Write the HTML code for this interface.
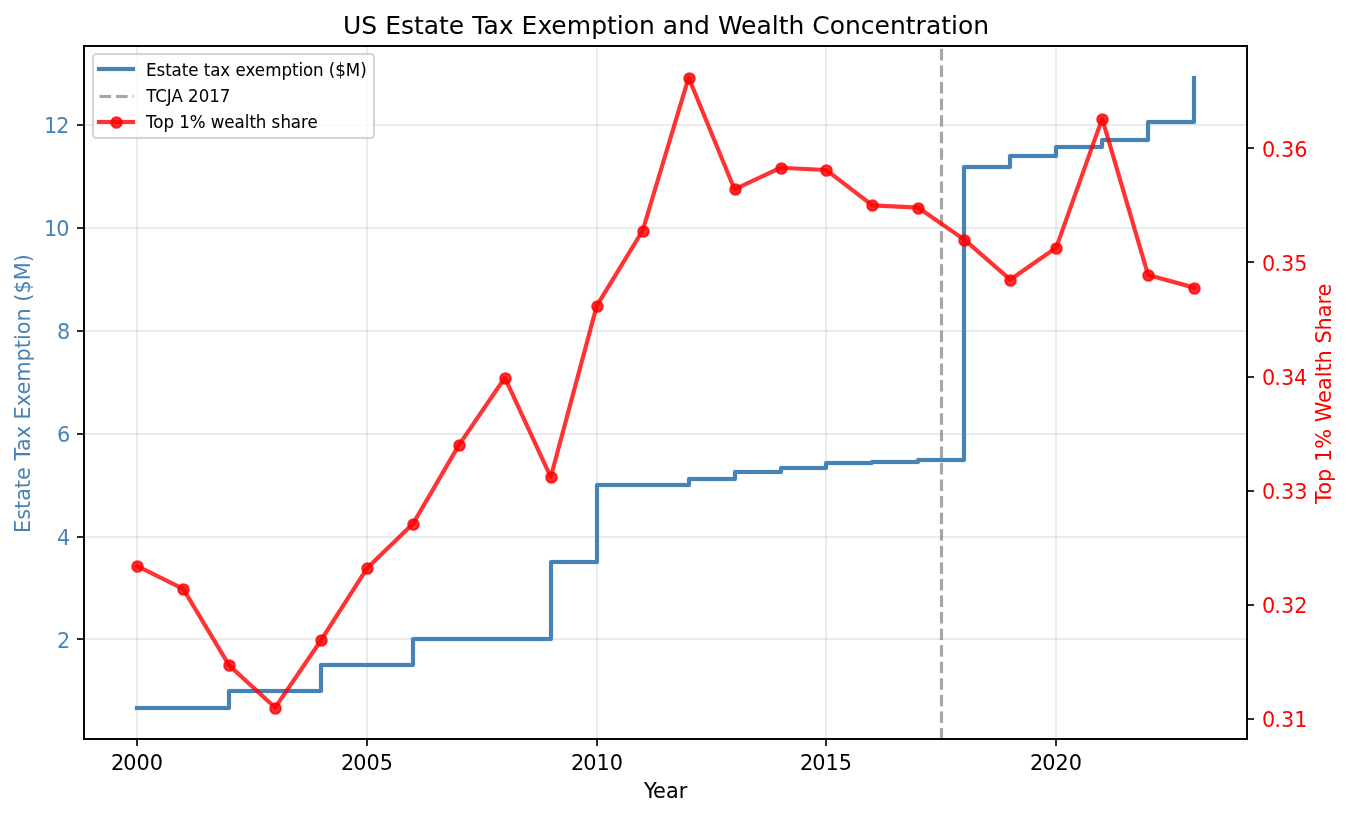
<!DOCTYPE html>
<html lang="en">
<head>
<meta charset="utf-8">
<title>US Estate Tax Exemption and Wealth Concentration</title>
<style>
html,body{margin:0;padding:0;background:#fff}
#chart{display:block;width:1351px;height:817px}
#chart text{font-family:'DejaVu Sans','Liberation Sans',sans-serif;font-weight:400;font-style:normal}
</style>
</head>
<body>
<svg id="chart" width="1351" height="817" viewBox="0 0 1351 817" role="img" aria-label="US Estate Tax Exemption and Wealth Concentration">
<rect x="0" y="0" width="1351" height="817" fill="#fff"/>
<defs><clipPath id="c"><rect x="84.417" y="46.083" width="1162.5" height="693"/></clipPath></defs>
<!-- grid -->
<path d="M137 739V46M367 739V46M597 739V46M826 739V46M1056 739V46" fill="none" stroke="#b0b0b0" stroke-opacity="0.25" stroke-width="2"/>
<path d="M84 639H1247M84 537H1247M84 434H1247M84 331H1247M84 228H1247M84 125H1247" fill="none" stroke="#b0b0b0" stroke-opacity="0.25" stroke-width="2"/>
<!-- left and bottom ticks -->
<path d="M137 739V746M367 739V746M597 739V746M826 739V746M1056 739V746M84 639H77M84 537H77M84 434H77M84 331H77M84 228H77M84 125H77" fill="none" stroke="#000" stroke-opacity="0.8333" stroke-width="2"/>
<!-- estate tax exemption (step) -->
<g fill="none" stroke="#4682b4" stroke-linecap="square" stroke-linejoin="round" clip-path="url(#c)">
<path d="M137 708H183H229V691H275H321V665H367H413V639H459H505H551V562H597V485H643H689V479H735V472H781V468H826V463H872V462H918V460H964V167H1010V156H1056V147H1102V140H1148V122H1194V78" stroke-width="6" stroke-opacity="0.0833"/>
<path d="M137 708H183H229V691H275H321V665H367H413V639H459H505H551V562H597V485H643H689V479H735V472H781V468H826V463H872V462H918V460H964V167H1010V156H1056V147H1102V140H1148V122H1194V78" stroke-width="4"/>
</g>
<!-- TCJA 2017 dashed line -->
<g fill="none" stroke="#808080" stroke-width="3.125">
<path d="M941.5 49V60M941.5 66V77M941.5 82V93M941.5 99V110M941.5 116V126M941.5 132V143M941.5 149V159M941.5 165V176M941.5 182V192M941.5 198V209M941.5 215V226M941.5 232V242M941.5 248V259M941.5 265V275M941.5 281V292M941.5 298V308M941.5 314V325M941.5 331V342M941.5 347V358M941.5 364V375M941.5 381V391M941.5 397V408M941.5 414V424M941.5 430V441M941.5 447V457M941.5 463V474M941.5 480V491M941.5 497V507M941.5 513V524M941.5 530V540M941.5 546V557M941.5 563V573M941.5 579V590M941.5 596V607M941.5 612V623M941.5 629V640M941.5 646V656M941.5 662V673M941.5 679V689M941.5 695V706M941.5 712V722M941.5 728V739" stroke-opacity="0.7"/>
<path d="M941.5 192V193M941.5 231V232M941.5 457V458M941.5 496V497M941.5 722V723" stroke-opacity="0.656"/>
<path d="M941.5 115V116M941.5 308V309M941.5 380V381M941.5 573V574M941.5 645V646" stroke-opacity="0.612"/>
<path d="M941.5 159V160M941.5 264V265M941.5 424V425M941.5 529V530M941.5 689V690" stroke-opacity="0.569"/>
<path d="M941.5 148V149M941.5 275V276M941.5 413V414M941.5 540V541M941.5 678V679" stroke-opacity="0.525"/>
<path d="M941.5 126V127M941.5 297V298M941.5 391V392M941.5 562V563M941.5 656V657" stroke-opacity="0.481"/>
<path d="M941.5 181V182M941.5 242V243M941.5 446V447M941.5 507V508M941.5 711V712" stroke-opacity="0.438"/>
<path d="M941.5 65V66M941.5 93V94M941.5 330V331M941.5 358V359M941.5 595V596M941.5 623V624" stroke-opacity="0.394"/>
<path d="M941.5 209V210M941.5 214V215M941.5 474V475M941.5 479V480" stroke-opacity="0.35"/>
<path d="M941.5 60V61M941.5 98V99M941.5 325V326M941.5 363V364M941.5 590V591M941.5 628V629" stroke-opacity="0.306"/>
<path d="M941.5 176V177M941.5 247V248M941.5 441V442M941.5 512V513M941.5 706V707" stroke-opacity="0.262"/>
<path d="M941.5 131V132M941.5 292V293M941.5 396V397M941.5 557V558M941.5 661V662" stroke-opacity="0.219"/>
<path d="M941.5 143V144M941.5 280V281M941.5 408V409M941.5 545V546M941.5 673V674" stroke-opacity="0.175"/>
<path d="M941.5 164V165M941.5 259V260M941.5 429V430M941.5 524V525M941.5 694V695" stroke-opacity="0.131"/>
<path d="M941.5 48V49M941.5 110V111M941.5 313V314M941.5 375V376M941.5 578V579M941.5 640V641" stroke-opacity="0.087"/>
<path d="M941.5 197V198M941.5 226V227M941.5 462V463M941.5 491V492M941.5 727V728M941.5 739V740" stroke-opacity="0.044"/>
</g>
<!-- legend -->
<rect x="93" y="54" width="281" height="84" rx="3.333" ry="3.333" fill="#fff" fill-opacity="0.8" stroke="#ccc" stroke-opacity="0.8" stroke-width="2"/>
<rect x="93" y="54" width="281" height="84" rx="3.333" ry="3.333" fill="none" stroke="#ccc" stroke-opacity="0.033" stroke-width="4"/>
<g fill="none" stroke="#4682b4" stroke-linecap="square"><path d="M99 69H133" stroke-width="6" stroke-opacity="0.0833"/><path d="M99 69H133" stroke-width="4"/></g>
<g fill="none" stroke="#808080" stroke-dasharray="11.562 5"><path d="M99.5 96.5H133.5" stroke-width="5" stroke-opacity="0.044"/><path d="M99.5 96.5H133.5" stroke-width="3" stroke-opacity="0.69"/></g>
<g fill="none" stroke="#f00"><path d="M96.917 122H135.083" stroke-width="4" stroke-opacity="0.8"/><path d="M96.917 119.5H135.083M96.917 124.5H135.083" stroke-width="1" stroke-opacity="0.0667"/></g>
<circle cx="116.5" cy="122.5" r="5.26" fill="#f00" fill-opacity="0.8" stroke="#f00" stroke-opacity="0.8" stroke-width="2.083"/>
<!-- right ticks -->
<path d="M1247 719H1254M1247 605H1254M1247 491H1254M1247 377H1254M1247 262H1254M1247 148H1254" fill="none" stroke="#000" stroke-opacity="0.8333" stroke-width="2"/>
<!-- top 1% wealth share -->
<path d="M137.258 566.062L183.206 588.888L229.155 665.355L275.103 707.583L321.052 640.246L367.001 568.344L412.949 523.833L458.898 445.083L504.847 377.746L550.795 477.04L596.744 305.844L642.692 230.518L688.641 77.583L734.59 189.431L780.538 167.746L826.487 170.029L872.435 205.409L918.384 207.692L964.333 239.649L1010.281 279.594L1056.23 247.638L1102.179 118.67L1148.127 275.029L1194.076 287.583" fill="none" stroke="#f00" stroke-opacity="0.8" stroke-width="4.167" stroke-linecap="square" stroke-linejoin="round" clip-path="url(#c)"/>
<g fill="#f00" fill-opacity="0.8" stroke="#f00" stroke-opacity="0.8" stroke-width="2.083">
<circle cx="137.5" cy="566.5" r="5.26"/>
<circle cx="183.5" cy="589.5" r="5.26"/>
<circle cx="229.5" cy="665.5" r="5.26"/>
<circle cx="275.5" cy="708.5" r="5.26"/>
<circle cx="321.5" cy="640.5" r="5.26"/>
<circle cx="367.5" cy="568.5" r="5.26"/>
<circle cx="413.5" cy="524.5" r="5.26"/>
<circle cx="459.5" cy="445.5" r="5.26"/>
<circle cx="505.5" cy="378.5" r="5.26"/>
<circle cx="551.5" cy="477.5" r="5.26"/>
<circle cx="597.5" cy="306.5" r="5.26"/>
<circle cx="643.5" cy="231.5" r="5.26"/>
<circle cx="689.5" cy="78.5" r="5.26"/>
<circle cx="735.5" cy="189.5" r="5.26"/>
<circle cx="781.5" cy="168.5" r="5.26"/>
<circle cx="826.5" cy="170.5" r="5.26"/>
<circle cx="872.5" cy="205.5" r="5.26"/>
<circle cx="918.5" cy="208.5" r="5.26"/>
<circle cx="964.5" cy="240.5" r="5.26"/>
<circle cx="1010.5" cy="280.5" r="5.26"/>
<circle cx="1056.5" cy="248.5" r="5.26"/>
<circle cx="1102.5" cy="119.5" r="5.26"/>
<circle cx="1148.5" cy="275.5" r="5.26"/>
<circle cx="1194.5" cy="288.5" r="5.26"/>
</g>
<!-- axes frame -->
<rect x="84" y="46" width="1163" height="693" fill="none" stroke="#000" stroke-opacity="0.9722" stroke-width="2"/>
<!-- labels -->
<text transform="translate(665.75 34)" font-size="25" stroke="#000" stroke-width="0.025" stroke-linejoin="round" x="-322.75 -304.5 -289 -280.5 -264.75 -251.75 -242 -226.75 -217 -201.75 -193.5 -182.25 -167 -152.75 -144.25 -128.25 -114.5 -99 -74.5 -58.75 -49 -42 -26.75 -11.5 -3 12.5 28.25 43.5 52.25 75.25 90.75 106 113 122.75 138 146.5 164 179.25 195 208.75 224.25 240 249.75 260.25 275.5 285.25 292.25 307.5" y="0">US Estate Tax Exemption and Wealth Concentration</text>
<text transform="translate(146 76) scale(0.9434 1)" font-size="17.667" stroke="#000" stroke-width="0.05" stroke-linejoin="round" x="0 11.13 20.405 27.03 37.895 44.785 55.915 61.215 68.105 78.705 89.835 94.87 105.47 115.275 126.404 143.629 154.759 161.649 166.419 177.019 188.944 193.714 200.604 211.734 227.104" y="0">Estate tax exemption ($M)</text>
<text transform="translate(146 102) scale(0.9699 1)" font-size="17.183" x="0.258 9.537 21.394 26.291 38.148 43.303 54.387 65.213 76.039" y="0">TCJA 2017</text>
<text transform="translate(146 128) scale(0.9242 1)" font-size="18.033" stroke="#000" stroke-width="0.075" stroke-linejoin="round" x="0 7.845 18.935 30.567 35.977 47.338 64.921 70.061 84.668 95.758 106.849 111.989 118.751 130.924 135.793 145.531 156.622 167.713 174.746" y="0">Top 1% wealth share</text>
<text transform="translate(30 392.5) rotate(-90) scale(0.9675 1)" font-size="21.533" fill="#4682b4" x="-145.22 -131.525 -120.413 -111.886 -98.966 -90.439 -75.969 -70.284 -60.465 -47.287 -33.592 -27.907 -14.212 -2.067 11.111 32.041 45.736 54.264 60.207 73.385 88.114 93.798 102.326 116.021 134.625" y="0">Estate Tax Exemption ($M)</text>
<text transform="translate(69.75 133) scale(0.9434 1)" font-size="22.083" fill="#4682b4" stroke="#fff" stroke-width="0.025" stroke-linejoin="round" x="-27.295 -14.31" y="0">12</text>
<text transform="translate(69.75 236) scale(0.9434 1)" font-size="22.083" fill="#4682b4" stroke="#fff" stroke-width="0.025" stroke-linejoin="round" x="-27.295 -14.31" y="0">10</text>
<text transform="translate(70.25 339) scale(0.9905 1)" font-size="21.033" fill="#4682b4" stroke="#fff" stroke-width="0.05" stroke-linejoin="round" x="-13.377" y="0">8</text>
<text transform="translate(70.25 442) scale(1.0098 1)" font-size="20.733" fill="#4682b4" stroke="#fff" stroke-width="0.025" stroke-linejoin="round" x="-13.121" y="0">6</text>
<text transform="translate(70.25 545) scale(1.0073 1)" font-size="20.683" fill="#4682b4" stroke="#fff" stroke-width="0.025" stroke-linejoin="round" x="-13.154" y="0">4</text>
<text transform="translate(69.75 648) scale(0.9434 1)" font-size="22.083" fill="#4682b4" stroke="#fff" stroke-width="0.025" stroke-linejoin="round" x="-13.515" y="0">2</text>
<text transform="translate(137.25 770) scale(0.9434 1)" font-size="22.083" stroke="#000" stroke-width="0.025" stroke-linejoin="round" x="-27.825 -14.84 -0.795 13.25" y="0">2000</text>
<text transform="translate(367 770) scale(0.9434 1)" font-size="22.083" x="-27.56 -14.575 -0.53 13.515" y="0">2005</text>
<text transform="translate(596.75 770) scale(0.9434 1)" font-size="22.083" x="-27.295 -14.31 -0.265 13.78" y="0">2010</text>
<text transform="translate(826.5 770) scale(0.9434 1)" font-size="22.083" x="-28.09 -15.105 -1.06 12.985" y="0">2015</text>
<text transform="translate(1056.25 770) scale(0.9434 1)" font-size="22.083" stroke="#000" stroke-width="0.025" stroke-linejoin="round" x="-27.825 -14.84 -0.795 13.25" y="0">2020</text>
<text transform="translate(665.75 798) scale(0.9434 1)" font-size="22.083" stroke="#000" stroke-width="0.05" stroke-linejoin="round" x="-23.055 -13.515 0.265 13.78" y="0">Year</text>
<text transform="translate(1261.5 157) scale(0.9434 1)" font-size="22.083" fill="#f00" stroke="#fff" stroke-width="0.025" stroke-linejoin="round" x="0.53 13.515 20.67 34.715" y="0">0.36</text>
<text transform="translate(1261.5 271) scale(0.9434 1)" font-size="22.083" fill="#f00" stroke="#fff" stroke-width="0.05" stroke-linejoin="round" x="0.53 13.515 20.67 34.715" y="0">0.35</text>
<text transform="translate(1261.5 385) scale(0.9434 1)" font-size="22.083" fill="#f00" stroke="#fff" stroke-width="0.025" stroke-linejoin="round" x="0.53 13.515 20.67 34.45" y="0">0.34</text>
<text transform="translate(1261.5 499) scale(0.9434 1)" font-size="22.083" fill="#f00" stroke="#fff" stroke-width="0.05" stroke-linejoin="round" x="0.53 13.515 20.67 34.715" y="0">0.33</text>
<text transform="translate(1261.5 613) scale(0.9434 1)" font-size="22.083" fill="#f00" stroke="#fff" stroke-width="0.025" stroke-linejoin="round" x="0.53 13.515 20.67 34.715" y="0">0.32</text>
<text transform="translate(1261.5 727) scale(0.9498 1)" font-size="21.933" fill="#f00" stroke="#fff" stroke-width="0.025" stroke-linejoin="round" x="0.526 13.424 20.531 34.481" y="0">0.31</text>
<text transform="translate(1331 392.5) rotate(-90) scale(0.9434 1)" font-size="22.083" fill="#f00" stroke="#f00" stroke-width="0.025" stroke-linejoin="round" x="-118.19 -108.12 -94.87 -79.5 -73.67 -59.625 -37.63 -31.535 -11.13 2.65 16.165 22.26 30.74 45.845 51.94 65.72 79.765 93.28 101.76" y="0">Top 1% Wealth Share</text>
</svg>
</body>
</html>
